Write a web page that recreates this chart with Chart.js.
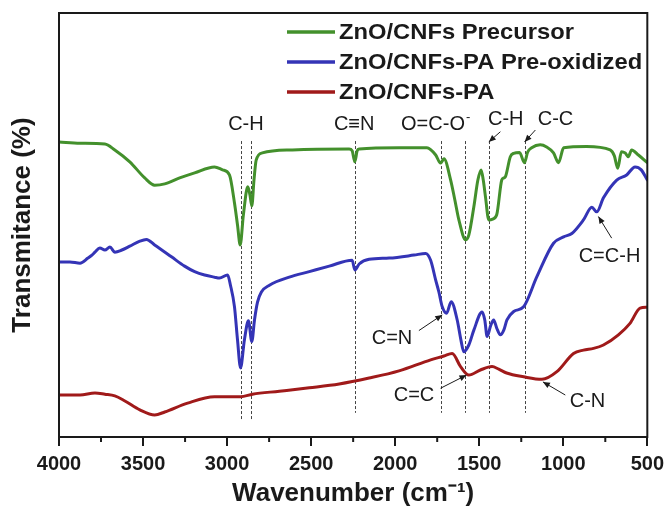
<!DOCTYPE html>
<html>
<head>
<meta charset="utf-8">
<script src="https://cdn.jsdelivr.net/npm/chart.js@4.4.0/dist/chart.umd.min.js"></script>
<style>
  html, body { margin: 0; padding: 0; background: #fff; }
  #wrap { width: 670px; height: 508px; }
</style>
</head>
<body>
<div id="wrap"><canvas id="chart" width="670" height="508"></canvas></div>
<script>
// FTIR spectra, wavenumber (cm-1) vs transmittance (offset, %)
const seriesNames = ['ZnO/CNFs Precursor', 'ZnO/CNFs-PA Pre-oxidized', 'ZnO/CNFs-PA'];

const precursorWn = [4000, 3875, 3727, 3668, 3579, 3490, 3431, 3371, 3282, 3193, 3075, 3027, 2986, 2956, 2938, 2922,
  2903, 2877, 2864, 2853, 2840, 2827, 2790, 2612, 2274, 2256, 2240, 2226, 2214, 1977, 1811, 1759, 1730, 1710, 1670,
  1645, 1621, 1581, 1562, 1532, 1508, 1489, 1476, 1463, 1443, 1420, 1396, 1366, 1354, 1344, 1315, 1295, 1260, 1231,
  1212, 1188, 1137, 1099, 1058, 1028, 998, 862, 721, 696, 676, 654, 632, 613, 593, 553, 500];
const precursorT = [69.6, 69.3, 69.1, 67.7, 64.9, 61.1, 59.4, 59.7, 61.1, 62.3, 63.7, 63.0, 61.8, 55.2, 50.0, 45.3,
  52.4, 59.0, 57.1, 54.5, 60.6, 65.3, 67.0, 67.7, 67.9, 67.5, 64.9, 67.5, 67.9, 68.2, 68.2, 66.5, 64.6, 65.6, 60.6,
  55.9, 51.2, 46.5, 47.6, 54.3, 60.6, 63.0, 60.6, 56.7, 51.2, 51.4, 52.4, 60.6, 61.1, 61.4, 66.1, 66.9, 67.1, 64.7,
  67.2, 68.2, 68.9, 68.4, 67.0, 64.7, 68.2, 68.5, 67.7, 66.3, 63.4, 67.3, 67.0, 66.1, 67.7, 66.5, 64.7];

const preoxWn = [4000, 3935, 3875, 3828, 3804, 3786, 3757, 3727, 3697, 3668, 3626, 3579, 3519, 3480, 3431, 3331, 3253,
  3193, 3134, 3075, 3045, 2997, 2980, 2956, 2938, 2920, 2897, 2873, 2853, 2837, 2819, 2796, 2748, 2630, 2511, 2392,
  2256, 2240, 2214, 2155, 2036, 1888, 1819, 1789, 1759, 1740, 1720, 1694, 1667, 1631, 1609, 1592, 1562, 1532, 1483,
  1467, 1453, 1431, 1414, 1396, 1374, 1354, 1335, 1295, 1236, 1157, 1058, 998, 949, 880, 830, 801, 761, 682, 623,
  573, 536, 500];
const preoxT = [41.3, 41.3, 41.0, 42.2, 42.9, 43.6, 44.6, 44.1, 44.8, 43.6, 44.1, 45.0, 46.2, 46.6, 45.3, 42.5, 40.3,
  39.0, 38.2, 37.7, 37.5, 38.2, 35.8, 30.7, 22.9, 16.3, 22.9, 27.4, 22.5, 27.6, 31.8, 34.2, 35.8, 37.7, 39.0, 40.3,
  41.7, 39.4, 40.8, 41.9, 42.2, 42.9, 43.3, 41.7, 37.0, 34.2, 30.7, 29.2, 31.9, 27.6, 22.9, 20.1, 21.7, 25.2, 29.5,
  27.6, 23.7, 26.4, 27.6, 25.7, 24.1, 25.2, 27.6, 29.6, 30.7, 37.8, 45.7, 47.2, 48.0, 51.2, 54.2, 53.1, 56.4, 60.6, 61.8,
  63.7, 63.0, 60.6];

const paWn = [4000, 3875, 3786, 3727, 3668, 3608, 3519, 3431, 3371, 3235, 3075, 2920, 2849, 2689, 2511, 2333, 2155,
  1977, 1789, 1710, 1661, 1611, 1562, 1493, 1424, 1384, 1337, 1236, 1127, 1038, 939, 880, 820, 761, 672, 603, 543, 500];
const paT = [9.9, 9.9, 10.4, 10.1, 9.7, 8.5, 6.4, 5.2, 5.9, 8.0, 9.5, 9.5, 10.1, 10.8, 11.6, 12.5, 13.9,
  15.6, 18.2, 19.1, 19.7, 16.6, 14.6, 15.8, 16.6, 16.0, 15.1, 14.2, 13.6, 15.4, 19.7, 20.5, 20.9, 21.7, 24.1, 26.8, 30.4, 30.6];

const majorTicks = [4000, 3500, 3000, 2500, 2000, 1500, 1000, 500];
const minorTicks = [3750, 3250, 2750, 2250, 1750, 1250, 750];

// band assignments (dashed guide lines, cm-1)
const peakLines = [2920, 2855, 2240, 1726, 1582, 1444, 1230];
const bandLabels = ['C-H', 'C\u2261N', 'O=C-O', 'C-H', 'C-C', 'C=N', 'C=C-H', 'C=C', 'C-N'];

const colors = ['#43902c', '#3434b6', '#a01a1a'];
const ink = '#1a1a1a';
const family = '"Liberation Sans", Arial, Helvetica, sans-serif';

const pairs = (xs, ys) => xs.map((x, i) => ({ x: x, y: ys[i] }));

const notes = {
  id: 'ftirNotes',
  beforeDatasetsDraw(chart) {
    const { ctx } = chart;
    const xs = chart.scales.x, ys = chart.scales.y;
    ctx.save();
    ctx.strokeStyle = '#444';
    ctx.lineWidth = 1;
    ctx.setLineDash([3, 2]);
    peakLines.forEach((wn, i) => {
      const px = Math.round(xs.getPixelForValue(wn)) + 0.5;
      ctx.beginPath();
      ctx.moveTo(px, ys.getPixelForValue(69.8));
      ctx.lineTo(px, ys.getPixelForValue(i < 2 ? 4.0 : 5.7));
      ctx.stroke();
    });
    ctx.restore();
  },
  afterDraw(chart) {
    const { ctx, chartArea: a } = chart;
    const xs = chart.scales.x, ys = chart.scales.y;
    const P = (wn, t) => [xs.getPixelForValue(wn), ys.getPixelForValue(t)];
    ctx.save();

    // frame
    ctx.strokeStyle = ink;
    ctx.lineWidth = 2;
    ctx.strokeRect(a.left, a.top, a.right - a.left, a.bottom - a.top);

    // minor ticks
    ctx.lineWidth = 2;
    minorTicks.forEach(v => {
      const px = xs.getPixelForValue(v);
      ctx.beginPath();
      ctx.moveTo(px, a.bottom);
      ctx.lineTo(px, a.bottom + 5);
      ctx.stroke();
    });

    // band labels
    const spots = [[2888, 73.6], [2244, 73.6], [1775, 73.6], [1342, 74.8], [1046, 74.8],
                   [2019, 23.3], [725, 42.5], [1888, 9.9], [856, 8.3]];
    ctx.fillStyle = ink;
    ctx.font = '20px ' + family;
    ctx.textAlign = 'center';
    ctx.textBaseline = 'middle';
    bandLabels.forEach((txt, i) => {
      const [px, py] = P(spots[i][0], spots[i][1]);
      ctx.fillText(txt, px, py);
      if (txt === 'O=C-O') {
        const w = ctx.measureText(txt).width;
        ctx.save();
        ctx.font = '13px ' + family;
        ctx.textAlign = 'left';
        ctx.fillText('-', px + w / 2 + 1, py - 8);
        ctx.restore();
      }
    });

    // arrows
    const arrows = [[[1374, 72.0], [1443, 69.6]], [[1166, 72.4], [1230, 69.6]],
                    [[1859, 25.1], [1720, 28.8]], [[1730, 11.5], [1576, 14.6]],
                    [[712, 46.9], [791, 52.0]], [[988, 9.9], [1121, 13.0]]];
    ctx.lineWidth = 1;
    arrows.forEach(([s, e]) => {
      const [x1, y1] = P(s[0], s[1]);
      const [x2, y2] = P(e[0], e[1]);
      const ang = Math.atan2(y2 - y1, x2 - x1);
      ctx.beginPath();
      ctx.moveTo(x1, y1);
      ctx.lineTo(x2, y2);
      ctx.stroke();
      ctx.beginPath();
      ctx.moveTo(x2, y2);
      ctx.lineTo(x2 - 7 * Math.cos(ang) + 3 * Math.sin(ang), y2 - 7 * Math.sin(ang) - 3 * Math.cos(ang));
      ctx.lineTo(x2 - 7 * Math.cos(ang) - 3 * Math.sin(ang), y2 - 7 * Math.sin(ang) + 3 * Math.cos(ang));
      ctx.closePath();
      ctx.fill();
    });

    // legend
    ctx.font = 'bold 22px ' + family;
    ctx.textAlign = 'left';
    chart.data.datasets.forEach((ds, i) => {
      const y = a.top + 19 + i * 30;
      ctx.strokeStyle = ds.borderColor;
      ctx.lineWidth = 3.5;
      ctx.beginPath();
      ctx.moveTo(287, y);
      ctx.lineTo(335, y);
      ctx.stroke();
      ctx.save();
      ctx.translate(339, y);
      ctx.scale(1.08, 1);
      ctx.fillStyle = ink;
      ctx.fillText(ds.label, 0, 1);
      ctx.restore();
    });
    ctx.restore();
  }
};

new Chart(document.getElementById('chart'), {
  type: 'line',
  data: {
    datasets: [
      { label: seriesNames[0], data: pairs(precursorWn, precursorT), borderColor: colors[0] },
      { label: seriesNames[1], data: pairs(preoxWn, preoxT), borderColor: colors[1] },
      { label: seriesNames[2], data: pairs(paWn, paT), borderColor: colors[2] }
    ]
  },
  options: {
    responsive: false,
    animation: false,
    layout: { padding: { top: 13, right: 21, left: 0, bottom: 0 } },
    elements: {
      point: { radius: 0 },
      line: { borderWidth: 3, cubicInterpolationMode: 'monotone', borderJoinStyle: 'round', borderCapStyle: 'round' }
    },
    plugins: { legend: { display: false }, tooltip: { enabled: false } },
    scales: {
      x: {
        type: 'linear',
        reverse: true,
        min: 500,
        max: 4000,
        afterBuildTicks: s => { s.ticks = majorTicks.map(v => ({ value: v })); },
        afterFit: s => { s.height = 71; },
        border: { display: false },
        grid: { display: true, drawOnChartArea: false, drawTicks: true, tickLength: 9, color: ink, lineWidth: 2 },
        ticks: { color: ink, padding: 6, maxRotation: 0, autoSkip: false, callback: v => String(v),
                 font: { family: family, size: 20, weight: 'bold' } },
        title: { display: true, text: 'Wavenumber (cm\u207B\u00B9)', color: ink, padding: { top: 0, bottom: -1 },
                 font: { family: family, size: 26, weight: 'bold' } }
      },
      y: {
        min: 0,
        max: 100,
        afterFit: s => { s.width = 59; },
        border: { display: false },
        grid: { display: false },
        ticks: { display: false },
        title: { display: true, text: 'Transmitance (%)', color: ink, padding: { top: 7, bottom: 0 },
                 font: { family: family, size: 26, weight: 'bold' } }
      }
    }
  },
  plugins: [notes]
});
</script>
</body>
</html>
